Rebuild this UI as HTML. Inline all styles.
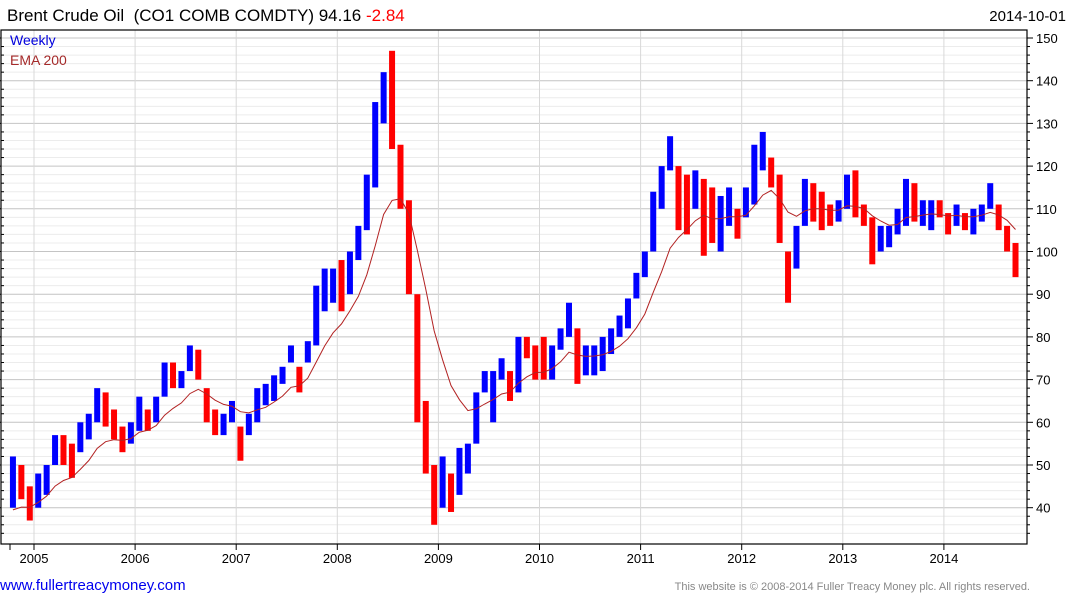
<!DOCTYPE html>
<html><head><meta charset="utf-8">
<style>
body{margin:0;background:#fff;width:1075px;height:600px;overflow:hidden;font-family:"Liberation Sans",Arial,sans-serif}
svg{display:block}
</style></head>
<body>
<svg id="chart" width="1075" height="600">
<text x="7" y="21" font-size="17" fill="#000" style="white-space:pre">Brent Crude Oil&#160; (CO1 COMB COMDTY) 94.16 <tspan fill="#ff0000">-2.84</tspan></text>
<text x="1066" y="21" font-size="15" fill="#000" text-anchor="end">2014-10-01</text>
<g id="grid"></g>
<g id="bars"></g>
<path id="ema" fill="none" stroke="#b22222" stroke-width="1"></path>
<rect x="1" y="30" width="1026" height="514" fill="none" stroke="#000" stroke-width="1.2"/>
<g id="axes"></g>
<text x="10" y="45" font-size="14" fill="#0000dd">Weekly</text>
<text x="10" y="65" font-size="14" fill="#a52a2a">EMA 200</text>
<text x="0" y="590" font-size="15" fill="#0000ee">www.fullertreacymoney.com</text>
<text x="1030" y="590" font-size="11" fill="#888" text-anchor="end">This website is © 2008-2014 Fuller Treacy Money plc. All rights reserved.</text>
</svg>
<script>
// monthly data from Oct 2004 to Sep 2014
const hiVals=[52,50,45,48,50,57,57,55,60,62,68,67,63,59,60,66,63,66,74,74,72,78,77,68,63,62,65,59,62,68,69,71,73,78,73,79,92,96,96,98,100,106,118,135,142,147,125,112,90,65,50,52,48,54,55,67,72,72,75,72,80,80,78,80,78,82,88,82,78,78,80,82,85,89,95,100,114,120,127,120,118,119,117,115,113,115,110,115,125,128,122,118,100,106,117,116,114,111,112,118,119,111,108,106,106,110,117,116,112,112,112,109,111,109,110,111,116,111,106,102];
const loVals=[40,42,37,40,43,50,50,47,53,56,60,59,56,53,55,58,58,60,66,68,68,72,70,60,57,57,60,51,57,60,64,65,69,74,67,74,78,86,88,86,90,98,105,115,130,124,110,90,60,48,36,40,39,43,48,55,67,60,70,65,67,75,70,70,70,77,80,69,71,71,72,76,80,82,89,94,100,110,119,105,104,110,99,102,100,106,103,108,111,119,115,102,88,96,106,107,105,106,107,110,108,106,97,100,101,104,106,107,106,105,108,104,106,105,104,107,110,105,100,94];
const clVals=[50,43,40,46,49,55,52,50,57,60,66,62,58,55,58,64,60,64,72,70,70,76,72,62,59,60,62,57,61,66,66,70,72,77,70,78,90,94,94,92,99,104,116,130,140,126,114,94,64,52,40,46,43,51,52,65,69,70,72,69,78,77,76,72,76,81,86,73,74,76,77,80,83,87,93,99,112,116,124,114,113,116,114,104,108,110,108,110,120,124,119,104,96,104,115,112,110,108,110,115,110,108,101,102,102,107,115,109,110,110,108,107,109,107,108,110,112,106,102,96];
const yTicks=[40,50,60,70,80,90,100,110,120,130,140,150];
const yearLabels=["2005","2006","2007","2008","2009","2010","2011","2012","2013","2014"];

const NS="http://www.w3.org/2000/svg";
function yS(v){return 38+(150-v)*4.27;}
function xYear(k){return 34+k*101.1;}
function xMonth(i){return 34+(i-3+0.5)*101.1/12;}
function mk(tag,attrs,parent){const e=document.createElementNS(NS,tag);for(const k in attrs)e.setAttribute(k,attrs[k]);parent.appendChild(e);return e;}

const grid=document.getElementById('grid'),axes=document.getElementById('axes'),bars=document.getElementById('bars');
for(let v=34;v<=150;v+=2){
  const major=v%10===0;
  const l=mk('line',{x1:1,x2:1027,y1:yS(v),y2:yS(v),stroke:major?'#c4c4c4':'#ececec','stroke-width':1},grid);
  
  
  const t=mk('line',{x1:1027,x2:major?1033:1030,y1:yS(v),y2:yS(v),stroke:'#000'},axes);
  
  
  const t2=mk('line',{x1:1,x2:major?-5:4,y1:yS(v),y2:yS(v),stroke:'#000'},axes);
  
  
}
yTicks.forEach(v=>{
  const t=mk('text',{x:1036,y:yS(v)+5,'font-size':13,fill:'#000'},axes);
  t.textContent=v;
  
  
});
yearLabels.forEach((lab,k)=>{
  const x=xYear(k);
  const g=mk('line',{x1:x,x2:x,y1:30,y2:544,stroke:'#d8d8d8'},grid);
  
  
  const tk=mk('line',{x1:x,x2:x,y1:544,y2:550,stroke:'#000'},axes);
  
  
  const t=mk('text',{x:x,y:563,'font-size':13,fill:'#000','text-anchor':'middle'},axes);
  t.textContent=lab;
  
  
});
const t0=mk('line',{x1:10,x2:10,y1:544,y2:550,stroke:'#000'},axes);



let ema=37,emaPts=[];
const alpha=2/(10.5);
for(let i=0;i<clVals.length;i++){
  const up=i===0?true:clVals[i]>=clVals[i-1];
  const x=xMonth(i);
  const r=mk('rect',{x:x-3,y:yS(hiVals[i]),width:6,height:yS(loVals[i])-yS(hiVals[i]),fill:up?'#0000ff':'#ff0000'},bars);
  
  
  ema=ema+alpha*(clVals[i]-ema);
  emaPts.push([x,yS(ema)]);
}
document.getElementById('ema').setAttribute('d','M'+emaPts.map(p=>p[0].toFixed(1)+','+p[1].toFixed(1)).join(' L'));
</script>
</body></html>
